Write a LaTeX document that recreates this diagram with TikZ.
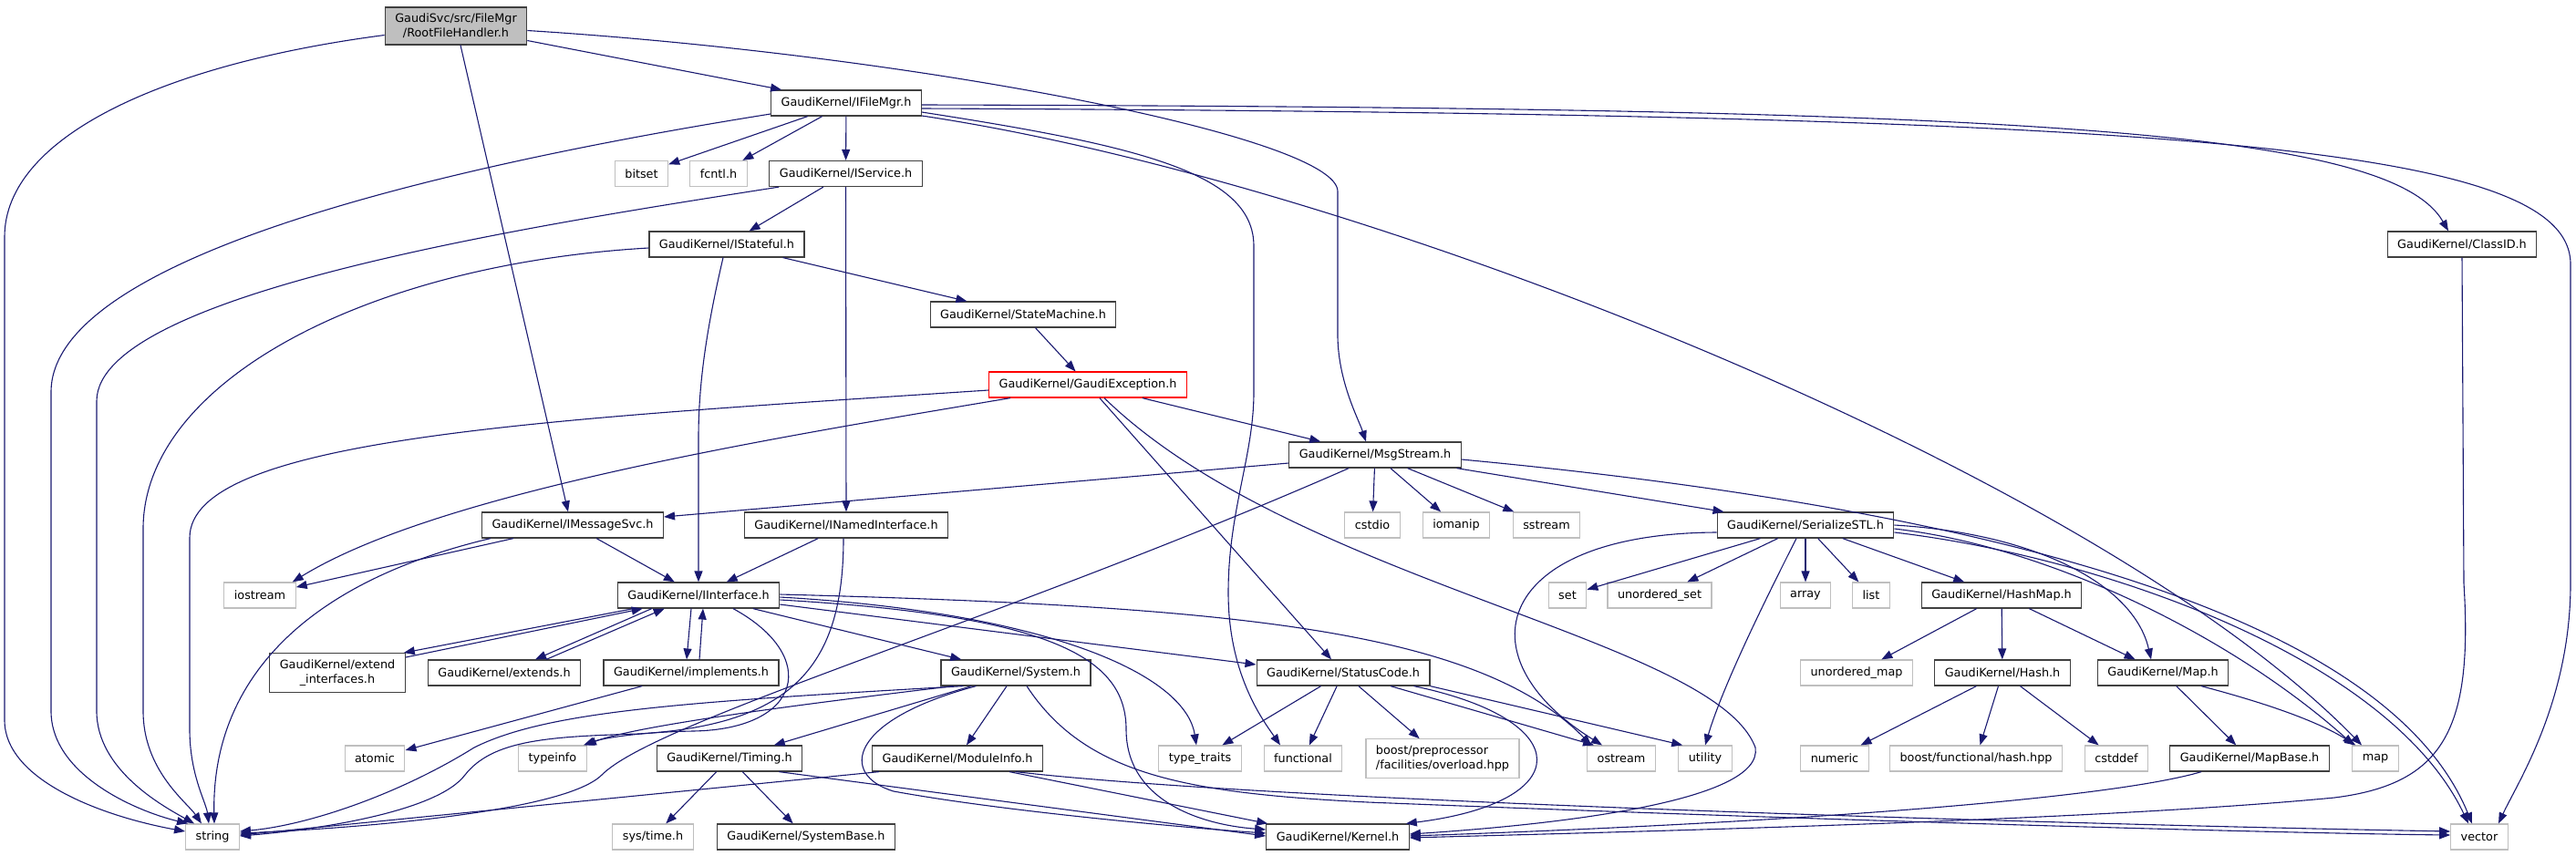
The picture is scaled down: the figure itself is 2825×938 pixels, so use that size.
\documentclass[tikz,border=0pt]{standalone}
\usepackage{fontspec}
\setmainfont{DejaVu Sans}
\usetikzlibrary{arrows.meta}
\usetikzlibrary{calc}
\definecolor{edgeblue}{HTML}{191970}
\definecolor{extgrey}{HTML}{BFBFBF}
\tikzset{
  filebox/.style={draw,line width=1.2pt,inner xsep=11pt,inner ysep=7pt,minimum height=28pt,
    font=\fontsize{12.8}{16}\selectfont},
  gkfile/.style={filebox,draw=black!75,fill=white},
  stdfile/.style={filebox,draw=extgrey,fill=white},
  rootfile/.style={gkfile,fill=extgrey,align=center},
  partfile/.style={gkfile,draw=red},
  incl/.style={draw=edgeblue,line width=1.1pt,-{Triangle[length=12pt,width=9pt]}}
}

\begin{document}
\begin{tikzpicture}[x=1pt,y=-1pt]
  \useasboundingbox (0,0) rectangle (2825,938);

  \node[rootfile] (root) at (500,28.5) {GaudiSvc/src/FileMgr\\/RootFileHandler.h};
  \node[gkfile] (ifilemgr) at (928,113) {GaudiKernel/IFileMgr.h};
  \node[stdfile] (bitset) at (703.5,190.5) {bitset};
  \node[stdfile] (fcntl) at (788,190.5) {fcntl.h};
  \node[gkfile] (iservice) at (927.5,190.5) {GaudiKernel/IService.h};
  \node[gkfile] (istateful) at (797,268) {GaudiKernel/IStateful.h};
  \node[gkfile] (classid) at (2700,268) {GaudiKernel/ClassID.h};
  \node[gkfile] (statemachine) at (1122,345) {GaudiKernel/StateMachine.h};
  \node[partfile] (gaudiexc) at (1193,422) {GaudiKernel/GaudiException.h};
  \node[gkfile] (msgstream) at (1508,499) {GaudiKernel/MsgStream.h};
  \node[gkfile] (imessagesvc) at (628,576) {GaudiKernel/IMessageSvc.h};
  \node[gkfile] (inamed) at (928,576) {GaudiKernel/INamedInterface.h};
  \node[stdfile] (cstdio) at (1505,576) {cstdio};
  \node[stdfile] (iomanip) at (1597,576) {iomanip};
  \node[stdfile] (sstream) at (1696,576) {sstream};
  \node[gkfile] (serialize) at (1980,576) {GaudiKernel/SerializeSTL.h};
  \node[stdfile] (iostream) at (285,653) {iostream};
  \node[gkfile] (iinterface) at (766,653) {GaudiKernel/IInterface.h};
  \node[stdfile] (set) at (1719,653) {set};
  \node[stdfile] (uset) at (1820,653) {unordered\_set};
  \node[stdfile] (array) at (1980,653) {array};
  \node[stdfile] (list) at (2052,653) {list};
  \node[gkfile] (hashmap) at (2195,653) {GaudiKernel/HashMap.h};
  \node[gkfile,align=center] (extendif) at (370,738) {GaudiKernel/extend\\\_interfaces.h};
  \node[gkfile] (extends) at (553,738) {GaudiKernel/extends.h};
  \node[gkfile] (implements) at (758,738) {GaudiKernel/implements.h};
  \node[gkfile] (system) at (1114,738) {GaudiKernel/System.h};
  \node[gkfile] (statuscode) at (1473,738) {GaudiKernel/StatusCode.h};
  \node[stdfile] (umap) at (2036,738) {unordered\_map};
  \node[gkfile] (hash) at (2196,738) {GaudiKernel/Hash.h};
  \node[gkfile] (gkmap) at (2372,738) {GaudiKernel/Map.h};
  \node[stdfile] (atomic) at (411,832) {atomic};
  \node[stdfile] (typeinfo) at (606,832) {typeinfo};
  \node[gkfile] (timing) at (800,832) {GaudiKernel/Timing.h};
  \node[gkfile] (moduleinfo) at (1050,832) {GaudiKernel/ModuleInfo.h};
  \node[stdfile] (typetraits) at (1316,832) {type\_traits};
  \node[stdfile] (functional) at (1429,832) {functional};
  \node[stdfile,align=left] (boostpp) at (1582,832) {boost/preprocessor\\/facilities/overload.hpp};
  \node[stdfile] (ostream) at (1778,832) {ostream};
  \node[stdfile] (utility) at (1870,832) {utility};
  \node[stdfile] (numeric) at (2012,832) {numeric};
  \node[stdfile] (boosthash) at (2167,832) {boost/functional/hash.hpp};
  \node[stdfile] (cstddef) at (2321,832) {cstddef};
  \node[gkfile] (mapbase) at (2467,832) {GaudiKernel/MapBase.h};
  \node[stdfile] (stdmap) at (2605,832) {map};
  \node[stdfile] (string) at (233,918) {string};
  \node[stdfile] (systime) at (716,918) {sys/time.h};
  \node[gkfile] (systembase) at (884,918) {GaudiKernel/SystemBase.h};
  \node[gkfile] (kernel) at (1467,918) {GaudiKernel/Kernel.h};
  \node[stdfile] (vector) at (2719,918) {vector};

  \foreach \a/\b in {ifilemgr/bitset,ifilemgr/fcntl,ifilemgr/iservice,iservice/istateful,iservice/inamed,
      istateful/statemachine,statemachine/gaudiexc,gaudiexc/msgstream,gaudiexc/statuscode,
      msgstream/cstdio,msgstream/iomanip,msgstream/sstream,msgstream/serialize,
      imessagesvc/iostream,imessagesvc/iinterface,inamed/iinterface,iinterface/system,implements/atomic,
      system/timing,system/moduleinfo,timing/systime,timing/systembase,
      statuscode/typetraits,statuscode/functional,statuscode/boostpp,
      serialize/set,serialize/uset,serialize/array,serialize/list,serialize/hashmap,
      hashmap/umap,hashmap/hash,hashmap/gkmap,hash/numeric,hash/boosthash,hash/cstddef,gkmap/mapbase}
    \draw[incl] (\a) -- (\b);

  \draw[incl] ($(root.west)+(0,10)$) .. controls (180,70) and (5,150) .. (5,260) -- (5,790)
    .. controls (5,855) and (110,895) .. ($(string.west)+(0,-6)$);
  \draw[incl] ($(root.east)+(0,16)$) -- ($(ifilemgr.north west)+(12,0)$);
  \draw[incl] ($(root.south)+(5,0)$) -- ($(imessagesvc.north)+(-5,0)$);
  \draw[incl] ($(root.east)+(0,5)$) .. controls (1000,60) and (1467,150) .. (1467,210) -- (1467,370)
    .. controls (1468,420) and (1490,460) .. ($(msgstream.north)+(-10,0)$);

  \draw[incl] ($(ifilemgr.west)+(0,12)$) .. controls (500,180) and (56,280) .. (56,430) -- (56,780)
    .. controls (56,850) and (150,890) .. ($(string.north west)+(3,0)$);
  \draw[incl] ($(ifilemgr.east)+(0,2)$) .. controls (2200,118) and (2620,140) .. ($(classid.north)+(-15,0)$);
  \draw[incl] ($(ifilemgr.east)+(0,6)$) .. controls (2400,125) and (2819,160) .. (2819,290) -- (2819,640)
    .. controls (2819,770) and (2760,860) .. ($(vector.north)+(21,0)$);
  \draw[incl] ($(ifilemgr.east)+(0,10)$) .. controls (1250,160) and (1375,190) .. (1375,270) -- (1375,430)
    .. controls (1375,500) and (1347,560) .. (1347,650) .. controls (1347,740) and (1385,790) .. ($(functional.north)+(-25,0)$);
  \draw[incl] ($(ifilemgr.east)+(0,14)$) .. controls (1500,200) and (2300,520) .. ($(stdmap.north)+(-15,0)$);

  \draw[incl] ($(iservice.south west)+(11,0)$) .. controls (600,245) and (106,320) .. (106,440) -- (106,780)
    .. controls (106,845) and (180,885) .. ($(string.north west)+(10,0)$);
  \draw[incl] ($(istateful.west)+(0,4)$) .. controls (400,290) and (157,420) .. (157,580) -- (157,780)
    .. controls (157,845) and (205,880) .. ($(string.north)+(-12,0)$);
  \draw[incl] ($(istateful.south)+(-4,0)$) .. controls (775,360) and (766,420) .. (766,480) -- (iinterface.north);

  \draw[incl] ($(gaudiexc.west)+(0,6)$) .. controls (600,460) and (208,480) .. (208,590) -- (208,800)
    .. controls (208,850) and (226,880) .. ($(string.north)+(-4,0)$);
  \draw[incl] ($(gaudiexc.south west)+(24,0)$) .. controls (850,480) and (480,540) .. ($(iostream.north east)+(-4,0)$);
  \draw[incl] ($(gaudiexc.south)+(18,0)$) .. controls (1420,640) and (1880,700) .. (1925,820)
    .. controls (1935,880) and (1700,905) .. ($(kernel.east)+(0,-3)$);

  \draw[incl] ($(msgstream.west)+(0,9)$) -- ($(imessagesvc.east)+(0,-9)$);
  \draw[incl] ($(msgstream.south west)+(66,0)$) .. controls (1100,680) and (720,790) .. (660,850)
    .. controls (620,890) and (400,908) .. ($(string.east)+(0,-4)$);
  \draw[incl] ($(msgstream.east)+(0,5)$) .. controls (2200,560) and (2620,680) .. ($(vector.north)+(-8,0)$);

  \draw[incl] ($(imessagesvc.south west)+(10,0)$) .. controls (330,640) and (232,750) .. ($(string.north)+(2,0)$);
  \draw[incl] ($(inamed.south)+(-3,0)$) .. controls (925,730) and (870,795) .. (700,805)
    .. controls (600,808) and (540,812) .. (510,850) .. controls (480,890) and (350,910) .. ($(string.east)+(0,-1)$);

  \draw[incl] ($(iinterface.south west)+(18,0)$) -- ($(extendif.north east)+(-2,0)$);
  \draw[incl] ($(extendif.north east)+(0,5)$) -- ($(iinterface.south west)+(28,0)$);
  \draw[incl] ($(iinterface.south west)+(38,0)$) -- ($(extends.north)+(34,0)$);
  \draw[incl] ($(extends.north)+(46,0)$) -- ($(iinterface.south west)+(52,0)$);
  \draw[incl] ($(iinterface.south)+(-8,0)$) -- ($(implements.north)+(-5,0)$);
  \draw[incl] ($(implements.north)+(9,0)$) -- ($(iinterface.south)+(5,0)$);
  \draw[incl] ($(iinterface.east)+(0,10)$) -- ($(statuscode.west)+(0,-9)$);
  \draw[incl] ($(iinterface.east)+(0,-1)$) .. controls (1350,665) and (1620,690) .. ($(ostream.north west)+(5,0)$);
  \draw[incl] ($(iinterface.east)+(0,2)$) .. controls (1150,672) and (1300,740) .. ($(typetraits.north)+(-4,0)$);
  \draw[incl] ($(iinterface.east)+(0,5)$) .. controls (1150,675) and (1235,720) .. (1235,800)
    .. controls (1235,880) and (1320,905) .. ($(kernel.west)+(0,-8)$);
  \draw[incl] ($(iinterface.south)+(38,0)$) .. controls (900,720) and (880,800) .. (760,802)
    .. controls (700,803) and (660,810) .. ($(typeinfo.north east)+(-4,0)$);

  \draw[incl] ($(system.south west)+(14,0)$) .. controls (900,770) and (700,795) .. ($(typeinfo.north east)+(-2,0)$);
  \draw[incl] ($(system.south west)+(25,0)$) .. controls (750,770) and (600,780) .. (520,820)
    .. controls (440,870) and (340,905) .. ($(string.east)+(0,-6)$);
  \draw[incl] ($(system.south west)+(39,0)$) .. controls (930,790) and (920,850) .. (980,868)
    .. controls (1100,890) and (1300,908) .. ($(kernel.west)+(0,-4)$);
  \draw[incl] ($(system.south)+(12,0)$) .. controls (1190,850) and (1300,870) .. (1500,880)
    .. controls (2000,900) and (2500,914) .. ($(vector.west)+(0,-2)$);

  \draw[incl] ($(timing.south east)+(-26,0)$) -- ($(kernel.west)+(0,-1)$);
  \draw[incl] ($(moduleinfo.south west)+(8,0)$) -- ($(string.east)+(0,-2)$);
  \draw[incl] ($(moduleinfo.south east)+(-37,0)$) -- ($(kernel.north west)+(2,0)$);
  \draw[incl] ($(moduleinfo.south east)+(-30,0)$) .. controls (1400,880) and (2300,905) .. ($(vector.west)+(0,-6)$);

  \draw[incl] ($(statuscode.south)+(52,0)$) -- ($(ostream.north west)+(8,0)$);
  \draw[incl] (statuscode.south east) -- ($(utility.north west)+(5,0)$);
  \draw[incl] ($(statuscode.south east)+(-18,0)$) .. controls (1730,790) and (1730,880) .. ($(kernel.north east)+(-4,0)$);

  \draw[incl] ($(serialize.south)+(-10,0)$) .. controls (1940,650) and (1890,750) .. (utility.north);
  \draw[incl] ($(serialize.west)+(0,8)$) .. controls (1640,585) and (1600,720) .. ($(ostream.north)+(-21,0)$);
  \draw[incl] (serialize.east) .. controls (2230,585) and (2340,640) .. ($(gkmap.north)+(-13,0)$);
  \draw[incl] ($(serialize.east)+(0,4)$) .. controls (2250,600) and (2450,700) .. ($(stdmap.north west)+(2,0)$);
  \draw[incl] ($(serialize.east)+(0,8)$) .. controls (2300,610) and (2620,720) .. ($(vector.north)+(-12,0)$);

  \draw[incl] ($(gkmap.south)+(42,0)$) .. controls (2480,770) and (2540,790) .. ($(stdmap.north west)+(4,0)$);
  \draw[incl] ($(mapbase.south west)+(35,0)$) .. controls (2300,880) and (1900,905) .. ($(kernel.east)+(0,-1)$);
  \draw[incl] (classid.south) -- (2702,640) .. controls (2712,800) and (2680,860) .. (2560,875)
    .. controls (2300,900) and (1800,912) .. ($(kernel.east)+(0,1)$);
\end{tikzpicture}
\end{document}
